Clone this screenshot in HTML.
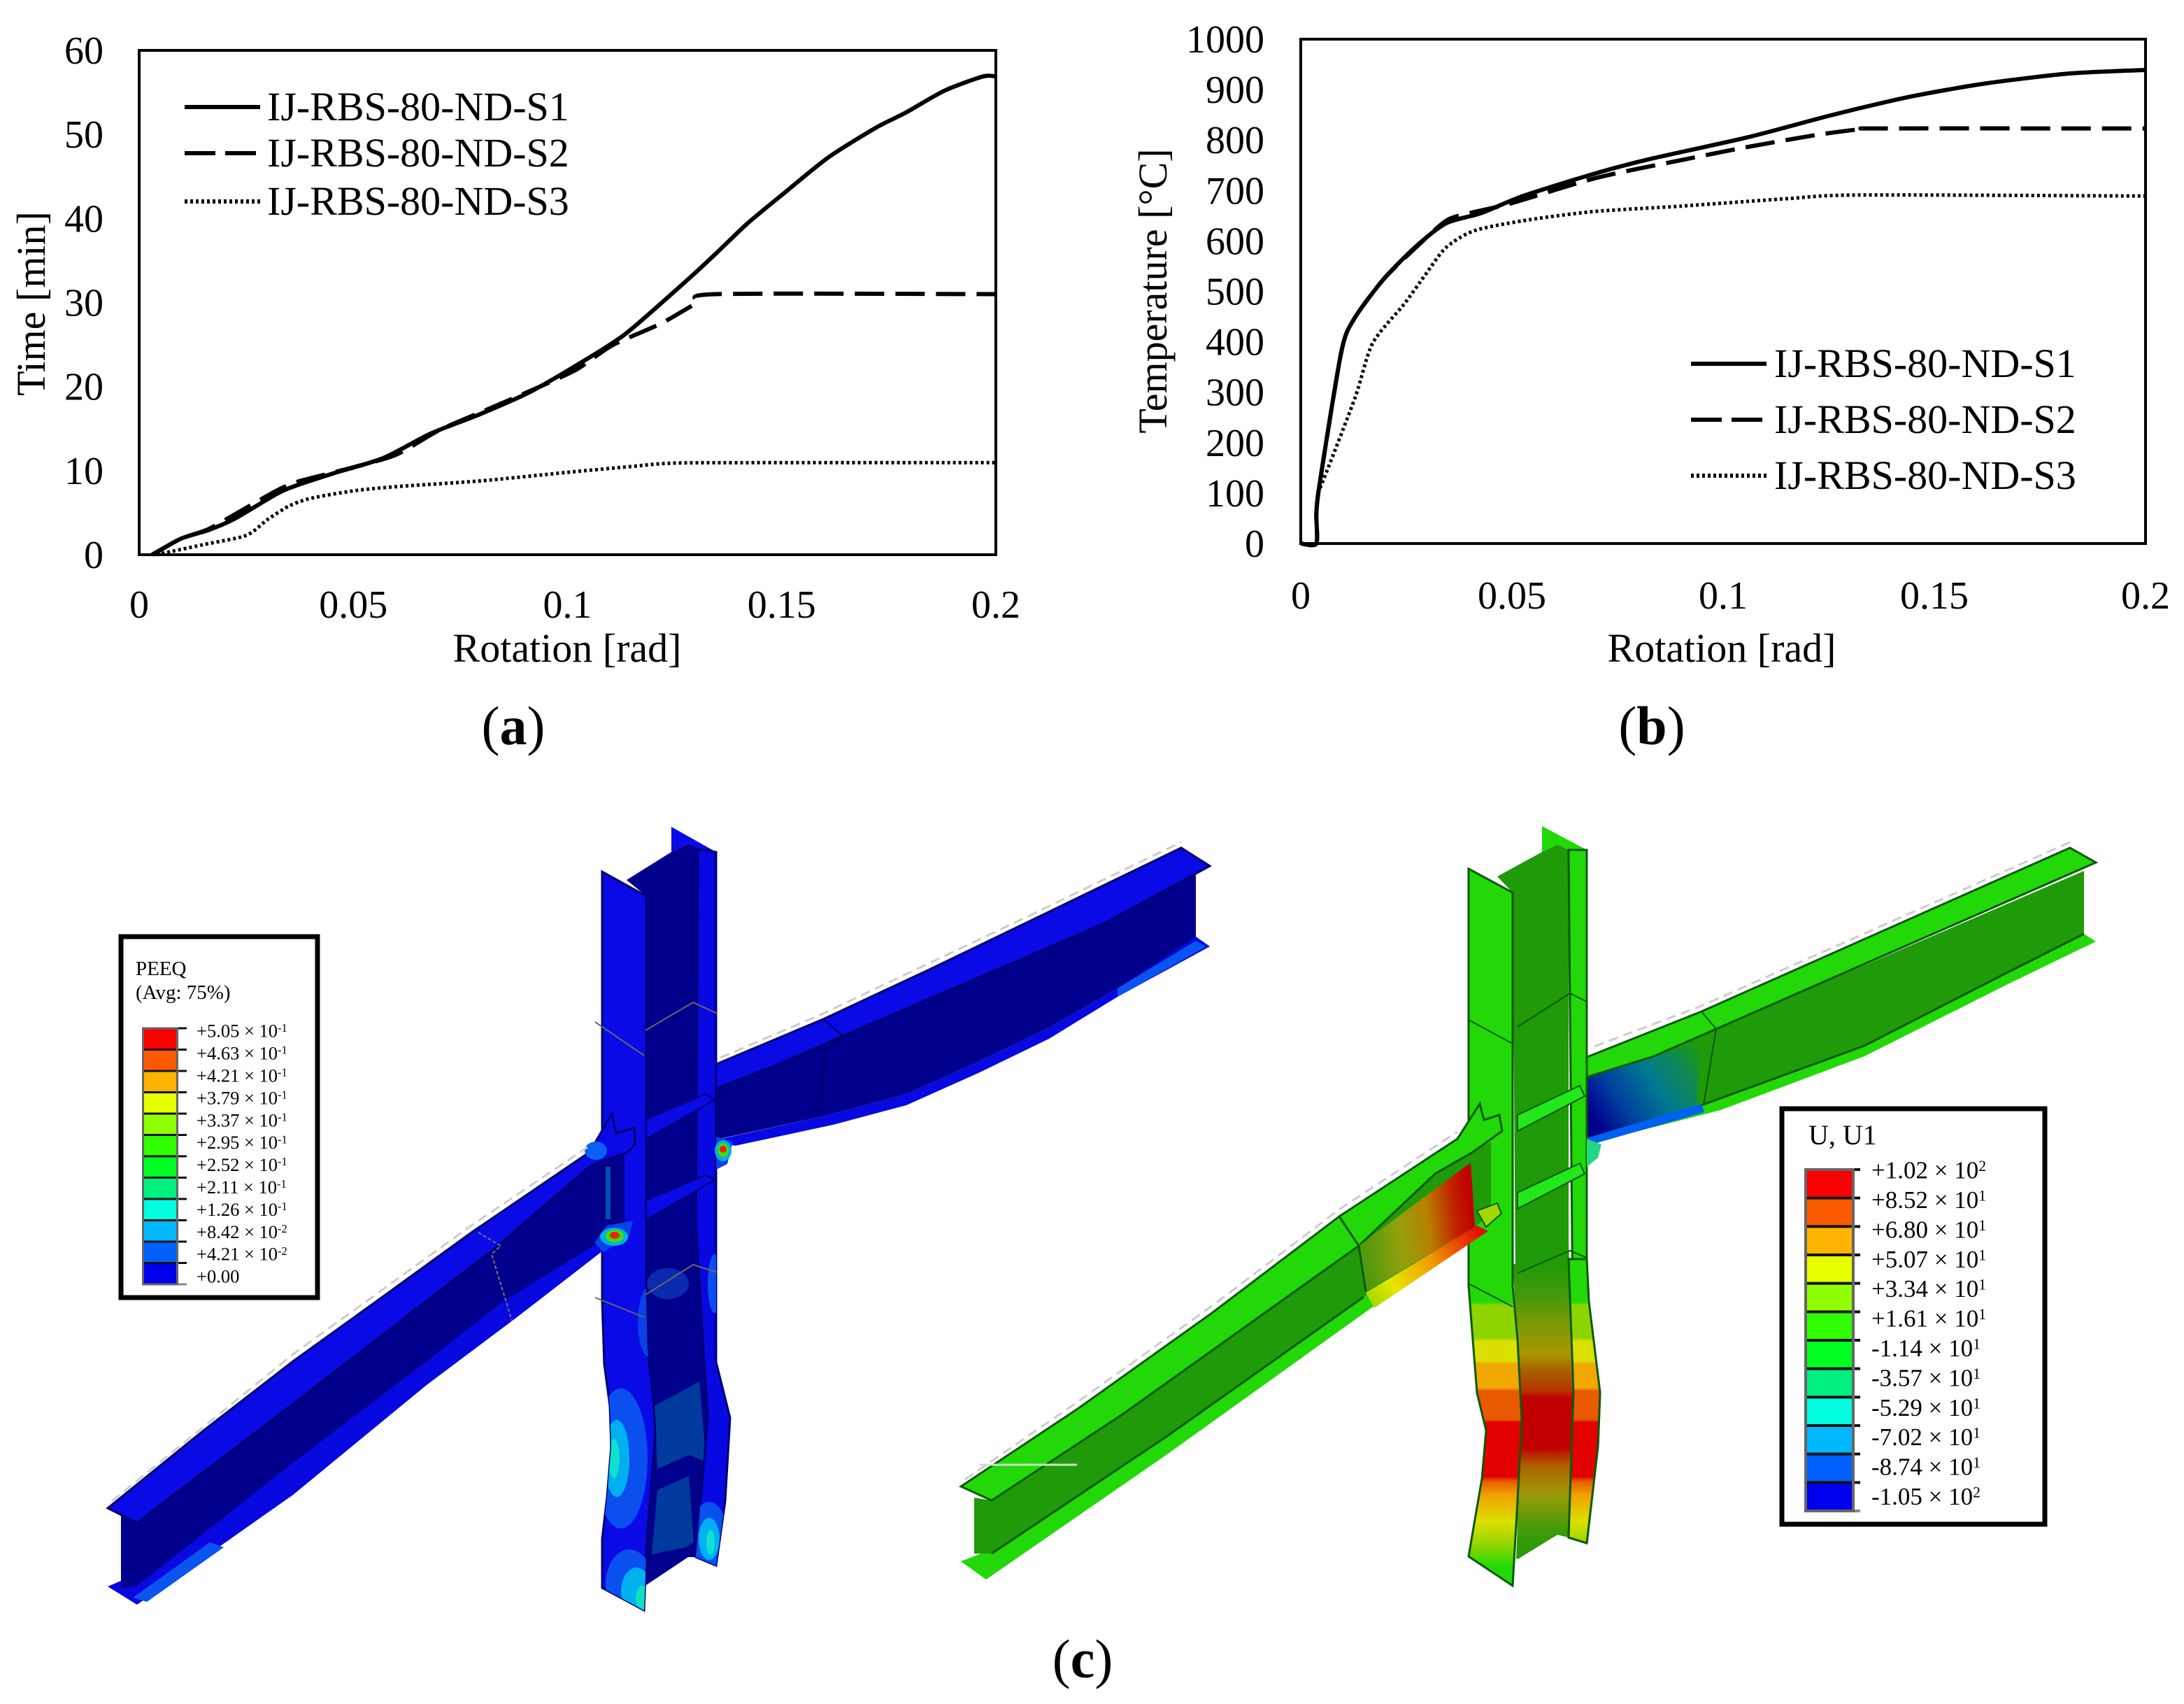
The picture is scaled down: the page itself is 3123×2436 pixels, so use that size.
<!DOCTYPE html>
<html lang="en">
<head>
<meta charset="utf-8">
<title>IJ-RBS-80-ND rotation curves and FE contours</title>
<style>
html,body{margin:0;padding:0;background:#fff;width:3123px;height:2436px;overflow:hidden}
svg{display:block}
text{font-family:"Liberation Serif",serif;fill:#000}
</style>
</head>
<body>
<svg id="fig" width="3123" height="2436" viewBox="0 0 3123 2436" xmlns="http://www.w3.org/2000/svg">
<defs>
<linearGradient id="flangeBands" gradientUnits="userSpaceOnUse" x1="0" y1="1840" x2="0" y2="2270">
<stop offset="0" stop-color="#22d808"/><stop offset=".05" stop-color="#22d808"/><stop offset=".06" stop-color="#8ed400"/><stop offset=".17" stop-color="#8ed400"/><stop offset=".18" stop-color="#dce000"/><stop offset=".245" stop-color="#dce000"/><stop offset=".255" stop-color="#f0a800"/><stop offset=".335" stop-color="#f0a800"/><stop offset=".345" stop-color="#e85a00"/><stop offset=".44" stop-color="#e85a00"/><stop offset=".45" stop-color="#e20000"/><stop offset=".63" stop-color="#e20000"/><stop offset=".645" stop-color="#e85a00"/><stop offset=".69" stop-color="#f0a000"/><stop offset=".78" stop-color="#dce000"/><stop offset=".86" stop-color="#8ed400"/><stop offset=".93" stop-color="#22d808"/><stop offset="1" stop-color="#22d808"/>
</linearGradient>
<linearGradient id="webBands" gradientUnits="userSpaceOnUse" x1="0" y1="1808" x2="0" y2="2230">
<stop offset="0" stop-color="#1f9a08"/><stop offset=".1" stop-color="#409a08"/><stop offset=".2" stop-color="#7a9a08"/><stop offset=".3" stop-color="#a89800"/><stop offset=".36" stop-color="#a86000"/><stop offset=".43" stop-color="#b83000"/><stop offset=".45" stop-color="#c00000"/><stop offset=".62" stop-color="#c00000"/><stop offset=".68" stop-color="#b06000"/><stop offset=".78" stop-color="#9a9a08"/><stop offset=".9" stop-color="#409a08"/><stop offset="1" stop-color="#1f9a08"/>
</linearGradient>
<linearGradient id="hotWeb" gradientUnits="userSpaceOnUse" x1="1950" y1="1790" x2="2110" y2="1770">
<stop offset="0" stop-color="#4f9a0c"/><stop offset=".35" stop-color="#96a00c"/><stop offset=".6" stop-color="#b88000"/><stop offset=".85" stop-color="#c02000"/><stop offset="1" stop-color="#c00000"/>
</linearGradient>
<linearGradient id="hotFlange" gradientUnits="userSpaceOnUse" x1="1950" y1="1870" x2="2125" y2="1755">
<stop offset="0" stop-color="#8ed400"/><stop offset=".25" stop-color="#e6e600"/><stop offset=".55" stop-color="#f0a000"/><stop offset=".8" stop-color="#e84000"/><stop offset="1" stop-color="#e00000"/>
</linearGradient>
<linearGradient id="coldWeb" gradientUnits="userSpaceOnUse" x1="2285" y1="1610" x2="2440" y2="1510">
<stop offset="0" stop-color="#00008c"/><stop offset=".25" stop-color="#0040a0"/><stop offset=".55" stop-color="#007a90"/><stop offset=".8" stop-color="#108a50"/><stop offset="1" stop-color="#1f9a08"/>
</linearGradient>
<clipPath id="blueLeftFlangeClip"><polygon points="861,1246 924,1281 924,1855 926,1930 934,2000 937,2050 932,2110 925,2200 921,2302 861,2270 861,2200 868,2140 874,2068 872,2010 864,1950 861,1860"/></clipPath>
<clipPath id="blueRightFlangeClip"><polygon points="998,1214 1024,1218 1024,1947 1044,2027 1037,2146 1024,2238 995,2226 1002,2146 1012,2027 995,1748"/></clipPath>
</defs>

<!-- Blue PEEQ model -->
<g id="peeq-model">
  <g>
    <polygon points="1020,1556 1114,1521 1205,1481 1577,1321 1710,1250 1710,1341 1598,1413 1500,1469 1401,1517 1296,1564 1177,1596 1020,1630" fill="#00008c"/>
    <polygon points="1020,1523 1177,1457 1331,1385 1472,1317 1689,1212 1730,1238 1577,1321 1205,1481 1114,1521 1020,1558" fill="#0a0ae6" stroke="#000070" stroke-width="3"/>
    <polygon points="1710,1339 1730,1353 1598,1425 1500,1485 1401,1533 1296,1580 1191,1608 1051,1638 1022,1630 1177,1596 1296,1564 1401,1517 1500,1469 1598,1413" fill="#0808e0"/>
    <polygon points="1598,1413 1710,1345 1725,1353 1598,1425" fill="#0a55f0"/>
    <polyline points="1177,1457 1205,1481 1180,1501 1173,1588" fill="none" stroke="#000060" stroke-width="2"/>
    <polyline points="1030,1512 1177,1449 1472,1309 1689,1204" fill="none" stroke="#ccc" stroke-width="3" stroke-dasharray="14 8"/>
  </g>
  <g>
    <polygon points="896,1258 960,1218 984,1206 1000,1214 995,1748 1012,2027 1002,2146 995,2226 984,2226 924,2266 924,1281" fill="#00008c"/>
    <polygon points="936,2010 1000,1975 1010,2090 985,2080 940,2100" fill="#003a9c"/>
    <polygon points="940,2130 985,2110 992,2205 980,2212 932,2222" fill="#003a9c"/>
    <ellipse cx="955" cy="1835" rx="30" ry="22" fill="#0a2ab0"/>
    <polygon points="960,1182 1024,1218 998,1214 984,1206 960,1218" fill="#0a0ae6"/>
    <polygon points="998,1214 1024,1218 1024,1947 1044,2027 1037,2146 1024,2238 995,2226 1002,2146 1012,2027 995,1748" fill="#0808e0" stroke="#000070" stroke-width="3"/>
    <polygon points="861,1246 924,1281 924,1855 926,1930 934,2000 937,2050 932,2110 925,2200 921,2302 861,2270 861,2200 868,2140 874,2068 872,2010 864,1950 861,1860" fill="#0a0ae6" stroke="#000070" stroke-width="3"/>
    <g clip-path="url(#blueLeftFlangeClip)">
      <ellipse cx="888" cy="2085" rx="38" ry="100" fill="#0a50ee"/>
      <ellipse cx="882" cy="2085" rx="18" ry="55" fill="#00b0f0"/>
      <ellipse cx="878" cy="2085" rx="8" ry="28" fill="#10e0d0"/>
      <ellipse cx="900" cy="2265" rx="34" ry="50" fill="#0a50ee"/>
      <ellipse cx="910" cy="2275" rx="22" ry="34" fill="#00b0f0"/>
      <ellipse cx="918" cy="2285" rx="9" ry="18" fill="#10e0c0"/>
      <ellipse cx="928" cy="1890" rx="16" ry="50" fill="#0a40e8"/>
    </g>
    <g clip-path="url(#blueRightFlangeClip)">
      <ellipse cx="1014" cy="2195" rx="26" ry="48" fill="#0a50ee"/>
      <ellipse cx="1014" cy="2200" rx="15" ry="30" fill="#00b0f0"/>
      <ellipse cx="1016" cy="2205" rx="6" ry="18" fill="#10e0d0"/>
      <ellipse cx="1022" cy="1835" rx="10" ry="42" fill="#0a50ee"/>
    </g>
    <polygon points="924,1600 1009,1564 1023,1572 924,1628" fill="#0a0ae6" stroke="#000070" stroke-width="2"/>
    <polygon points="924,1716 1009,1680 1023,1686 924,1744" fill="#0a0ae6" stroke="#000070" stroke-width="2"/>
    <polyline points="851,1461 921,1509" fill="none" stroke="#666" stroke-width="2"/>
    <polyline points="923,1473 991,1433 1026,1449" fill="none" stroke="#666" stroke-width="2"/>
    <polyline points="851,1855 921,1883" fill="none" stroke="#666" stroke-width="2"/>
    <polyline points="923,1851 991,1808 1026,1819" fill="none" stroke="#666" stroke-width="2"/>
    <polygon points="1024,1625 1048,1632 1040,1664 1024,1672" fill="#0a40e8"/>
    <ellipse cx="1034" cy="1645" rx="12" ry="15" fill="#00b0e0"/>
    <ellipse cx="1034" cy="1644" rx="8" ry="10" fill="#40e000"/>
    <ellipse cx="1034" cy="1643" rx="5" ry="5" fill="#f02000"/>
  </g>
  <g>
    <polygon points="154,2268 196,2294 419,2137 610,1980 738,1884 866,1785 893,1762 866,1762 719,1850 419,2080 196,2250" fill="#0808e0"/>
    <polygon points="173,2160 196,2177 419,2007 712,1781 840,1670 893,1642 893,1748 866,1770 719,1861 610,1946 419,2091 196,2267 173,2271" fill="#00008c"/>
    <polygon points="154,2156 291,2045 419,1946 547,1854 674,1762 843,1647 875,1592 881,1620 907,1612 908,1636 896,1648 854,1662 840,1670 712,1781 419,2007 196,2177" fill="#0a0ae6" stroke="#000070" stroke-width="3"/>
    <polygon points="190,2284 300,2205 320,2212 210,2290" fill="#0a55f0"/>
    <ellipse cx="852" cy="1645" rx="16" ry="13" fill="#0a60f0"/>
    <rect x="866" y="1668" width="7" height="75" fill="#0050b0"/>
    <polyline points="684,1762 716,1781 703,1793 732,1888" fill="none" stroke="#777" stroke-width="2" stroke-dasharray="5 3"/>
    <polygon points="868,1752 905,1745 900,1768 862,1790 850,1776" fill="#0a40e8"/>
    <ellipse cx="878" cy="1768" rx="20" ry="13" fill="#00b0e0"/>
    <ellipse cx="879" cy="1767" rx="13" ry="9" fill="#40e000"/>
    <ellipse cx="879" cy="1766" rx="7" ry="5" fill="#f02000"/>
    <polyline points="160,2146 419,1936 674,1752 840,1640" fill="none" stroke="#ccc" stroke-width="3" stroke-dasharray="14 8"/>
  </g>
</g>

<!-- Green U1 model -->
<g id="u1-model">
  <g>
    <polygon points="2262,1540 2365,1510 2454,1471 2980,1245 2980,1335 2871,1390 2666,1495 2433,1580 2262,1632" fill="#1f9a08"/>
    <polygon points="2262,1540 2365,1510 2433,1488 2426,1580 2262,1632" fill="url(#coldWeb)"/>
    <polygon points="2262,1514 2433,1446 2960,1212 2997,1233 2454,1471 2365,1510 2262,1542" fill="#22d808" stroke="#0a5a0a" stroke-width="3"/>
    <polygon points="2980,1335 2997,1346 2871,1407 2666,1510 2460,1587 2276,1634 2262,1630 2433,1580 2666,1495 2871,1390" fill="#22d808"/>
    <polygon points="2262,1629 2433,1578 2437,1590 2276,1636" fill="#0060f0"/>
    <polyline points="2433,1580 2666,1495 2871,1390 2980,1335" fill="none" stroke="#0a5a0a" stroke-width="3"/>
    <polyline points="2433,1446 2454,1471 2436,1580" fill="none" stroke="#0a5a0a" stroke-width="2"/>
    <polyline points="2280,1496 2433,1438 2960,1204" fill="none" stroke="#ccc" stroke-width="3" stroke-dasharray="14 8"/>
  </g>
  <g>
    <polygon points="2141,1253 2205,1218 2227,1207 2243,1215 2243,2198 2227,2194 2170,2229 2163,1276" fill="#1f9a08"/>
    <polygon points="2163,1808 2243,1775 2250,1991 2243,2198 2227,2194 2168,2229 2176,2030 2170,1915" fill="url(#webBands)"/>
    <polygon points="2205,1181 2269,1215 2243,1215 2227,1207 2205,1218" fill="#22d808"/>
    <polygon points="2243,1215 2269,1215 2269,1838 2288,1991 2285,2068 2269,2206 2243,2198 2250,1991" fill="#22d808" stroke="#0a5a0a" stroke-width="3"/>
    <polygon points="2243,1800 2269,1800 2272,1860 2288,1991 2285,2068 2269,2206 2243,2198 2250,1991" fill="url(#flangeBands)" stroke="#0a5a0a" stroke-width="3"/>
    <polygon points="2100,1242 2163,1276 2163,1838 2170,1915 2176,2030 2170,2145 2163,2267 2100,2225 2119,2114 2125,2045 2112,1991 2106,1915 2100,1838" fill="url(#flangeBands)" stroke="#0a5a0a" stroke-width="3"/>
    <polygon points="2170,1594 2259,1552 2266,1567 2170,1617" fill="#22e81a" stroke="#0a5a0a" stroke-width="2"/>
    <polygon points="2170,1705 2259,1663 2266,1678 2170,1728" fill="#22e81a" stroke="#0a5a0a" stroke-width="2"/>
    <polyline points="2100,1458 2163,1492" fill="none" stroke="#0a5a0a" stroke-width="2"/>
    <polyline points="2170,1468 2245,1420 2269,1432" fill="none" stroke="#0a5a0a" stroke-width="2"/>
    <polyline points="2100,1835 2163,1868" fill="none" stroke="#0a5a0a" stroke-width="2"/>
    <polyline points="2170,1820 2245,1788 2269,1798" fill="none" stroke="#0a5a0a" stroke-width="2"/>
    <polygon points="2269,1628 2290,1636 2285,1655 2269,1668" fill="#20d880"/>
  </g>
  <g>
    <polygon points="1374,2232 1410,2258 1669,2079 1962,1869 2116,1762 2130,1745 2116,1750 1950,1850 1669,2045 1418,2215" fill="#22d808"/>
    <polygon points="1393,2141 1418,2145 1605,2022 1943,1781 2052,1678 2132,1632 2132,1735 2109,1754 1950,1854 1669,2053 1418,2221 1393,2221" fill="#1f9a08"/>
    <polygon points="1374,2125 1541,2014 1733,1877 1915,1739 2084,1628 2116,1578 2122,1601 2144,1594 2148,1617 2106,1647 2052,1678 1943,1781 1605,2022 1418,2145" fill="#22d808" stroke="#0a5a0a" stroke-width="3"/>
    <polygon points="1943,1781 2103,1662 2109,1754 1953,1846" fill="url(#hotWeb)"/>
    <polygon points="1953,1848 2112,1752 2128,1760 1965,1870" fill="url(#hotFlange)"/>
    <polygon points="2112,1731 2141,1720 2147,1735 2125,1754" fill="#a0d800" stroke="#0a5a0a" stroke-width="2"/>
    <polyline points="1418,2221 1669,2053 1950,1854" fill="none" stroke="#0a5a0a" stroke-width="3"/>
    <polyline points="1915,1739 1943,1781 1953,1846" fill="none" stroke="#0a5a0a" stroke-width="3"/>
    <line x1="1400" y1="2094" x2="1540" y2="2094" stroke="#c8e8c0" stroke-width="3"/>
    <polyline points="1380,2115 1541,2004 1733,1867 1915,1729 2084,1618" fill="none" stroke="#ccc" stroke-width="3" stroke-dasharray="14 8"/>
  </g>
</g>

<!-- Chart (a) -->
<g id="chartA"></g>
<!-- Chart (b) -->
<g id="chartB"></g>

<!-- Contour legends -->
<g id="peeqLegend">
  <rect x="173" y="1339" width="281" height="516" fill="#fff" stroke="#000" stroke-width="7"/>
  <text x="194" y="1394" font-size="29">PEEQ</text>
  <text x="194" y="1428" font-size="29">(Avg: 75%)</text>
</g>
<g id="uLegend">
  <rect x="2548" y="1585" width="376" height="594" fill="#fff" stroke="#000" stroke-width="7"/>
  <text x="2586" y="1636" font-size="40">U, U1</text>
</g>

<text x="734" y="1064" font-size="78" text-anchor="middle">(<tspan font-weight="bold">a</tspan>)</text>
<text x="2362" y="1064" font-size="78" text-anchor="middle">(<tspan font-weight="bold">b</tspan>)</text>
<text x="1548" y="2398" font-size="78" text-anchor="middle">(<tspan font-weight="bold">c</tspan>)</text>
</svg>

<script>
var NS = 'http://www.w3.org/2000/svg';

// Chart (a) data: rotation [rad] vs time [min]
var timeS1Rot = [0.0032,0.0097,0.016,0.022,0.032,0.0365,0.0455,0.057,0.068,0.0795,0.091,0.102,0.1136,0.128,0.135,0.142,0.151,0.161,0.172,0.179,0.188,0.197,0.2];
var timeS1Val = [0,1.9,2.9,4.2,7.2,8.2,9.7,11.5,14.4,16.7,19.3,22.5,26.3,32.7,36,39.4,43.2,47.3,50.8,52.6,55.2,56.9,56.9];
var timeS2Rot = [0.003,0.0097,0.016,0.022,0.032,0.0365,0.04,0.05,0.06,0.07,0.08,0.09,0.102,0.1104,0.1218,0.13,0.1347,0.2];
var timeS2Val = [0,1.9,3,4.7,7.6,8.6,9.1,10.4,11.9,14.8,17,19.2,22,24.9,27.5,29.9,31,31];
var timeS3Rot = [0.004,0.015,0.025,0.03,0.035,0.04,0.05,0.06,0.08,0.1,0.115,0.125,0.15,0.2];
var timeS3Val = [0,1.2,2.3,4.2,5.8,6.7,7.6,8.1,8.8,9.8,10.5,10.9,10.95,10.95];
var timeYTicks = [0,10,20,30,40,50,60];

// Chart (b) data: rotation [rad] vs temperature [deg C]
var tempS1Rot = [0,0.0037,0.0037,0.0045,0.0096,0.0126,0.0195,0.027,0.0344,0.0427,0.0526,0.069,0.0825,0.1056,0.1255,0.1437,0.162,0.182,0.2];
var tempS1Val = [0,0,60,120,380,445,523,587,635,655,689,732,762,805,849,885,912,932,939];
var tempS2Rot = [0,0.0037,0.0037,0.0045,0.0096,0.0126,0.0195,0.027,0.0344,0.04,0.05,0.07,0.09,0.105,0.122,0.133,0.137,0.2];
var tempS2Val = [0,0,60,120,380,445,523,585,640,655,675,725,760,785,810,822,823,823];
var tempS3Rot = [0.004,0.0055,0.0129,0.017,0.0245,0.0295,0.0344,0.041,0.0526,0.069,0.09,0.1156,0.132,0.2];
var tempS3Val = [100,129,290,397,475,533,587,620,640,658,669,684,691,689];
var tempYTicks = [0,100,200,300,400,500,600,700,800,900,1000];

var rotTickVals = [0,0.05,0.1,0.15,0.2];
var rotTickLabels = ['0','0.05','0.1','0.15','0.2'];
var seriesNames = ['IJ-RBS-80-ND-S1','IJ-RBS-80-ND-S2','IJ-RBS-80-ND-S3'];

// Contour legend data
var peeqLabels = ['+5.05','+4.63','+4.21','+3.79','+3.37','+2.95','+2.52','+2.11','+1.26','+8.42','+4.21','+0.00'];
var peeqExps = ['-1','-1','-1','-1','-1','-1','-1','-1','-1','-2','-2',''];
var u1Labels = ['+1.02','+8.52','+6.80','+5.07','+3.34','+1.61','-1.14','-3.57','-5.29','-7.02','-8.74','-1.05'];
var u1Exps = ['2','1','1','1','1','1','1','1','1','1','1','2'];
var bandColors = ['#fb0000','#fb5a00','#fdb400','#e8ff00','#90ff00','#30ff00','#00ff20','#00f080','#00ffe0','#00b8ff','#0060ff','#0000ee'];

function el(parent, tag, attrs, txt) {
  var e = document.createElementNS(NS, tag);
  for (var k in attrs) e.setAttribute(k, attrs[k]);
  if (txt !== undefined) e.textContent = txt;
  parent.appendChild(e);
  return e;
}

function smoothPath(p) {
  var d = 'M' + p[0][0].toFixed(1) + ' ' + p[0][1].toFixed(1);
  for (var i = 0; i < p.length - 1; i++) {
    var a = p[Math.max(i - 1, 0)], b = p[i], c = p[i + 1], e = p[Math.min(i + 2, p.length - 1)];
    var c1x = b[0] + (c[0] - a[0]) / 8, c1y = b[1] + (c[1] - a[1]) / 8;
    var c2x = c[0] - (e[0] - b[0]) / 8, c2y = c[1] - (e[1] - b[1]) / 8;
    d += 'C' + c1x.toFixed(1) + ' ' + c1y.toFixed(1) + ' ' + c2x.toFixed(1) + ' ' + c2y.toFixed(1) + ' ' + c[0].toFixed(1) + ' ' + c[1].toFixed(1);
  }
  return d;
}

function drawSeries(g, rots, vals, sx, sy, dash, width, name) {
  var pts = rots.map(function (r, i) { return [sx(r), sy(vals[i])]; });
  var line = el(g, 'path', {d: smoothPath(pts), fill: 'none', stroke: '#000', 'stroke-width': width, 'stroke-dasharray': dash, 'stroke-linejoin': 'round'});
  
  
}

function drawChart(g, o) {
  var sx = function (v) { return o.x0 + v / 0.2 * (o.x1 - o.x0); };
  var sy = function (v) { return o.y0 - v / o.yMax * (o.y0 - o.yT); };
  var frame = el(g, 'rect', {x: o.x0, y: o.yT, width: o.x1 - o.x0, height: o.y0 - o.yT, fill: '#fff', stroke: '#000', 'stroke-width': 4});
  
  
  o.yTicks.forEach(function (v) {
    var t = el(g, 'text', {x: o.yLabelX, y: sy(v) + 19, 'font-size': 56, 'text-anchor': 'end'}, String(v));
    
    
  });
  rotTickVals.forEach(function (v, i) {
    var t = el(g, 'text', {x: sx(v), y: o.xLabelY, 'font-size': 56, 'text-anchor': 'middle'}, rotTickLabels[i]);
    
    
  });
  var xt = el(g, 'text', {x: o.xTitleX, y: 946, 'font-size': 58, 'text-anchor': 'middle'}, 'Rotation [rad]');
  
  
  var yt = el(g, 'text', {x: 0, y: 0, 'font-size': 58, 'text-anchor': 'middle', transform: 'translate(' + o.yTitleX + ',' + o.yTitleY + ') rotate(-90)'}, o.yTitle);
  
  
  drawSeries(g, o.s[0][0], o.s[0][1], sx, sy, 'none', 6, 'series-s1-line');
  drawSeries(g, o.s[1][0], o.s[1][1], sx, sy, '42 16', 6, 'series-s2-line');
  drawSeries(g, o.s[2][0], o.s[2][1], sx, sy, '4 4', 5, 'series-s3-line');
  seriesNames.forEach(function (n, i) {
    var dashes = ['none', '44 14', '4 4'];
    var ly = o.legY[i];
    var sw = el(g, 'line', {x1: o.legX0, y1: ly, x2: o.legX1, y2: ly, stroke: '#000', 'stroke-width': 6, 'stroke-dasharray': dashes[i]});
    
    
    var lt = el(g, 'text', {x: o.legTextX, y: ly + 19, 'font-size': 58}, n);
    
    
  });
}

drawChart(document.getElementById('chartA'), {
  x0: 199, x1: 1424, yT: 72, y0: 793, yMax: 60, yTicks: timeYTicks,
  yLabelX: 148, xLabelY: 883, xTitleX: 811, yTitleX: 64, yTitleY: 434, yTitle: 'Time [min]',
  legX0: 264, legX1: 372, legTextX: 382, legY: [153, 219, 288],
  s: [[timeS1Rot, timeS1Val], [timeS2Rot, timeS2Val], [timeS3Rot, timeS3Val]]
});
drawChart(document.getElementById('chartB'), {
  x0: 1860, x1: 3068, yT: 56, y0: 777, yMax: 1000, yTicks: tempYTicks,
  yLabelX: 1808, xLabelY: 870, xTitleX: 2462, yTitleX: 1668, yTitleY: 416, yTitle: 'Temperature [°C]',
  legX0: 2418, legX1: 2526, legTextX: 2537, legY: [520, 600, 680],
  s: [[tempS1Rot, tempS1Val], [tempS2Rot, tempS2Val], [tempS3Rot, tempS3Val]]
});

function drawColorbar(g, o) {
  var n = o.labels.length;
  var h = (o.yB - o.yT) / n;
  bandColors.forEach(function (c, i) {
    var b = el(g, 'rect', {x: o.x, y: o.yT + i * h, width: o.w, height: h, fill: c});
    
    
  });
  for (var i = 0; i <= n; i++) {
    var t = el(g, 'line', {x1: o.x, y1: o.yT + i * h, x2: o.x + o.w + o.tick, y2: o.yT + i * h, stroke: i === n ? '#888' : '#111', 'stroke-width': o.tickW});
    
    
  }
  var edge = el(g, 'rect', {x: o.x - o.tickW / 2, y: o.yT, width: o.w + o.tickW, height: o.yB - o.yT, fill: 'none', stroke: '#666', 'stroke-width': o.tickW});
  
  
  o.labels.forEach(function (l, i) {
    var y = o.labelStart + i * o.labelPitch + o.fs * 0.33;
    var text = el(g, 'text', {x: o.labelX, y: y, 'font-size': o.fs, 'xml:space': 'preserve'});
    
    
    var exp = o.exps[i];
    text.textContent = l + (exp ? ' × 10' : '');
    if (exp) el(text, 'tspan', {'font-size': o.fs * 0.62, dy: -o.fs * 0.3}, exp);
  });
}

drawColorbar(document.getElementById('peeqLegend'), {
  labels: peeqLabels, exps: peeqExps, x: 206, w: 46, yT: 1470, yB: 1836, tick: 15, tickW: 3, labelX: 281, fs: 26.5, labelStart: 1474, labelPitch: 31.9
});
drawColorbar(document.getElementById('uLegend'), {
  labels: u1Labels, exps: u1Exps, x: 2584, w: 64, yT: 1672, yB: 2160, tick: 12, tickW: 4, labelX: 2676, fs: 35, labelStart: 1673, labelPitch: 42.4
});
</script>
</body>
</html>
